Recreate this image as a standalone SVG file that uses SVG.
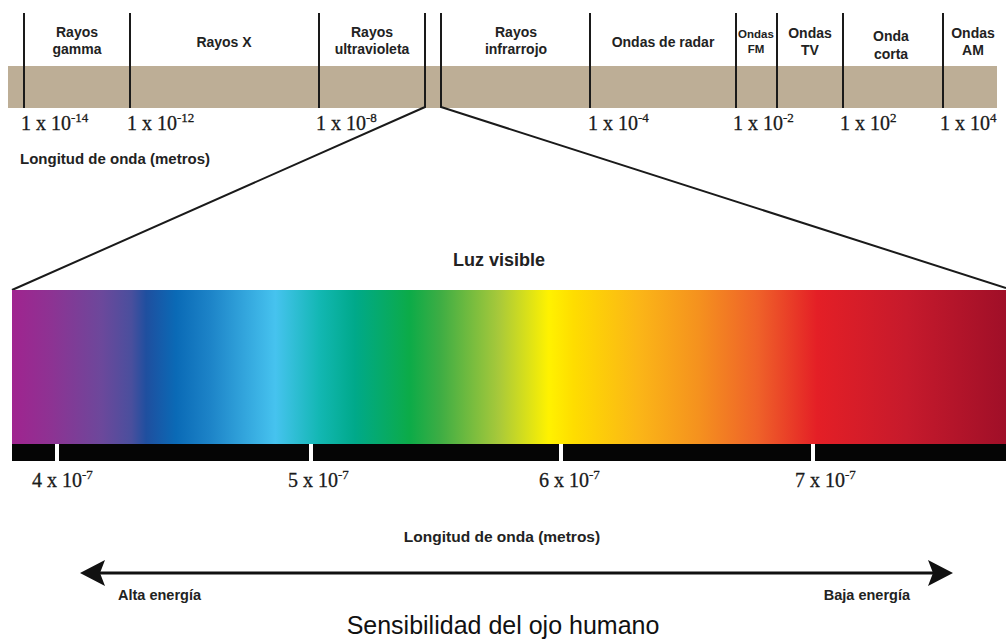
<svg xmlns="http://www.w3.org/2000/svg" width="1006" height="642" viewBox="0 0 1006 642">
<defs>
<style>
.lbl{font-family:"Liberation Sans",Arial,sans-serif;font-weight:bold;font-size:14px;fill:#222;text-anchor:middle}
.sm{font-size:11.5px}
.num{font-family:"Liberation Serif","Times New Roman",serif;font-size:20px;fill:#1a1a1a;stroke:#1a1a1a;stroke-width:0.3}
.sup{font-size:13px}
.axis{font-family:"Liberation Sans",Arial,sans-serif;font-weight:bold;font-size:15px;fill:#222}
.div{stroke:#1a1a1a;stroke-width:2;fill:none}
.tick{fill:#fff}
</style>
<linearGradient id="spec" x1="12" y1="0" x2="1006" y2="0" gradientUnits="userSpaceOnUse">
<stop offset="0" stop-color="#a0248f"/>
<stop offset="0.04" stop-color="#8d3393"/>
<stop offset="0.09" stop-color="#6c489b"/>
<stop offset="0.12" stop-color="#4a4f9d"/>
<stop offset="0.135" stop-color="#1f4f9f"/>
<stop offset="0.165" stop-color="#0a6ab6"/>
<stop offset="0.2" stop-color="#1d84c8"/>
<stop offset="0.265" stop-color="#46c3ef"/>
<stop offset="0.31" stop-color="#12b7b2"/>
<stop offset="0.345" stop-color="#00a98a"/>
<stop offset="0.4" stop-color="#0cab48"/>
<stop offset="0.43" stop-color="#3cad44"/>
<stop offset="0.49" stop-color="#a8c93a"/>
<stop offset="0.54" stop-color="#fff200"/>
<stop offset="0.565" stop-color="#fedd00"/>
<stop offset="0.63" stop-color="#fbb617"/>
<stop offset="0.69" stop-color="#f5921e"/>
<stop offset="0.75" stop-color="#ef6229"/>
<stop offset="0.81" stop-color="#e41f26"/>
<stop offset="0.9" stop-color="#c61a2c"/>
<stop offset="1" stop-color="#a00f28"/>
</linearGradient>
<marker id="head" viewBox="0 0 25 26" refX="21" refY="13" markerWidth="25" markerHeight="26" markerUnits="userSpaceOnUse" orient="auto-start-reverse">
<path d="M0,0 L25,13 L0,26 L5,13 Z" fill="#111"/>
</marker>
</defs>
<rect width="1006" height="642" fill="#fff"/>

<g id="band">
<rect x="8" y="66" width="989" height="42" fill="#bdae96"/>
</g>

<g id="connectors">
<line class="div" x1="24" y1="13" x2="24" y2="108"/>
<line class="div" x1="130" y1="13" x2="130" y2="108"/>
<line class="div" x1="319" y1="13" x2="319" y2="108"/>
<polyline class="div" points="425,13 425,107 12,290"/>
<polyline class="div" points="441,13 441,107 1006,288"/>
<line class="div" x1="590" y1="13" x2="590" y2="108"/>
<line class="div" x1="736" y1="13" x2="736" y2="108"/>
<line class="div" x1="777" y1="13" x2="777" y2="108"/>
<line class="div" x1="843" y1="13" x2="843" y2="108"/>
<line class="div" x1="943" y1="13" x2="943" y2="108"/>
<line x1="84" y1="573" x2="949" y2="573" stroke="#111" stroke-width="3" marker-start="url(#head)" marker-end="url(#head)"/>
</g>

<g id="n-gamma"><text class="lbl" x="77" y="37">Rayos</text><text class="lbl" x="77" y="54">gamma</text></g>
<g id="n-x"><text class="lbl" x="224" y="47">Rayos X</text></g>
<g id="n-uv"><text class="lbl" x="372" y="37">Rayos</text><text class="lbl" x="372" y="54">ultravioleta</text></g>
<g id="n-ir"><text class="lbl" x="516" y="37">Rayos</text><text class="lbl" x="516" y="54">infrarrojo</text></g>
<g id="n-radar"><text class="lbl" x="663" y="47">Ondas de radar</text></g>
<g id="n-fm"><text class="lbl sm" x="756" y="38">Ondas</text><text class="lbl sm" x="756" y="53">FM</text></g>
<g id="n-tv"><text class="lbl" x="810" y="38">Ondas</text><text class="lbl" x="810" y="55">TV</text></g>
<g id="n-corta"><text class="lbl" x="891" y="41">Onda</text><text class="lbl" x="891" y="59">corta</text></g>
<g id="n-am"><text class="lbl" x="973" y="38">Ondas</text><text class="lbl" x="973" y="55">AM</text></g>

<g id="scale-top">
<text class="num" x="21" y="130">1 x 10<tspan class="sup" dy="-8">-14</tspan></text>
<text class="num" x="127" y="130">1 x 10<tspan class="sup" dy="-8">-12</tspan></text>
<text class="num" x="316" y="130">1 x 10<tspan class="sup" dy="-8">-8</tspan></text>
<text class="num" x="588" y="130">1 x 10<tspan class="sup" dy="-8">-4</tspan></text>
<text class="num" x="733" y="130">1 x 10<tspan class="sup" dy="-8">-2</tspan></text>
<text class="num" x="840" y="130">1 x 10<tspan class="sup" dy="-8">2</tspan></text>
<text class="num" x="940" y="130">1 x 10<tspan class="sup" dy="-8">4</tspan></text>
<text class="axis" x="20" y="164">Longitud de onda (metros)</text>
</g>

<g id="visible">
<text class="axis" x="499" y="266" text-anchor="middle" style="font-size:18px">Luz visible</text>
<rect x="12" y="290" width="994" height="155" fill="url(#spec)"/>
<rect x="12" y="444" width="994" height="17" fill="#050505"/>
<rect class="tick" x="55" y="444" width="4" height="17"/>
<rect class="tick" x="309" y="444" width="4" height="17"/>
<rect class="tick" x="559" y="444" width="4" height="17"/>
<rect class="tick" x="811" y="444" width="4" height="17"/>
</g>

<g id="scale-bottom">
<text class="num" x="32" y="487">4 x 10<tspan class="sup" dy="-8">-7</tspan></text>
<text class="num" x="288" y="487">5 x 10<tspan class="sup" dy="-8">-7</tspan></text>
<text class="num" x="539" y="487">6 x 10<tspan class="sup" dy="-8">-7</tspan></text>
<text class="num" x="795" y="487">7 x 10<tspan class="sup" dy="-8">-7</tspan></text>
<text class="axis" x="502" y="542" text-anchor="middle" style="font-size:15.5px">Longitud de onda (metros)</text>
</g>

<g id="energy">
<text class="axis" x="118" y="600" style="font-size:14.5px">Alta energía</text>
<text class="axis" x="910" y="600" text-anchor="end" style="font-size:14.5px">Baja energía</text>
</g>

<g id="title">
<text x="503" y="634" text-anchor="middle" style="font-family:'Liberation Sans',Arial,sans-serif;font-size:25px;fill:#111">Sensibilidad del ojo humano</text>
</g>
</svg>
